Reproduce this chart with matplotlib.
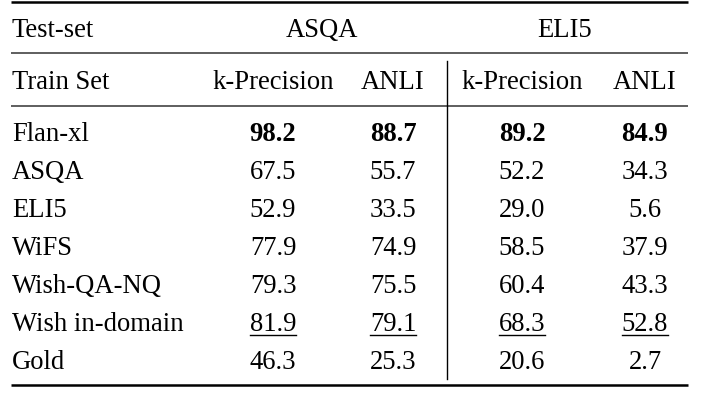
import matplotlib
matplotlib.use("Agg")
import matplotlib.pyplot as plt

train_sets = ["Flan-xl", "ASQA", "ELI5", "WiFS", "Wish-QA-NQ", "Wish in-domain", "Gold"]
test_sets = ["ASQA", "ELI5"]
metrics = ["k-Precision", "ANLI", "k-Precision", "ANLI"]
asqa_kprec = [98.2, 67.5, 52.9, 77.9, 79.3, 81.9, 46.3]
asqa_anli = [88.7, 55.7, 33.5, 74.9, 75.5, 79.1, 25.3]
eli5_kprec = [89.2, 52.2, 29.0, 58.5, 60.4, 68.3, 20.6]
eli5_anli = [84.9, 34.3, 5.6, 37.9, 43.3, 52.8, 2.7]
bold_row = "Flan-xl"
underline_row = "Wish in-domain"

W, H = 701, 402
fig = plt.figure(figsize=(W / 100, H / 100), dpi=100)
ax = fig.add_axes([0, 0, 1, 1])
ax.set_xlim(0, W)
ax.set_ylim(H, 0)
ax.axis("off")

FONT = "Liberation Serif"
FS = 19.2
col_x = [273, 393, 522, 645]
group_x = [322, 565]
row_y0, row_dy = 141, 38
left_x = 12

# rules
ax.plot([11, 688], [3, 3], color="black", lw=1.8, solid_capstyle="butt")
ax.plot([11, 688], [53.5, 53.5], color="#333333", lw=1.1, solid_capstyle="butt")
ax.plot([11, 688], [106.5, 106.5], color="#333333", lw=1.1, solid_capstyle="butt")
ax.plot([11, 688], [386, 386], color="black", lw=1.8, solid_capstyle="butt")
ax.plot([446.5, 446.5], [62, 380], color="black", lw=1.0)

ax.text(left_x, 37, "Test-set", family=FONT, fontsize=FS, va="baseline", ha="left")
for gx, name in zip(group_x, test_sets):
    ax.text(gx, 37, name, family=FONT, fontsize=FS, va="baseline", ha="center")
ax.text(left_x, 89, "Train Set", family=FONT, fontsize=FS, va="baseline", ha="left")
for cx, m in zip(col_x, metrics):
    ax.text(cx, 89, m, family=FONT, fontsize=FS, va="baseline", ha="center")

columns = [asqa_kprec, asqa_anli, eli5_kprec, eli5_anli]
underlined = []
for i, name in enumerate(train_sets):
    y = row_y0 + i * row_dy
    ax.text(left_x, y, name, family=FONT, fontsize=FS, va="baseline", ha="left")
    for cx, col in zip(col_x, columns):
        t = ax.text(cx, y, f"{col[i]:.1f}", family=FONT, fontsize=FS, va="baseline",
                    ha="center", fontweight="bold" if name == bold_row else "normal")
        if name == underline_row:
            underlined.append((t, y))

fig.canvas.draw()
r = fig.canvas.get_renderer()
inv = ax.transData.inverted()
for t, y in underlined:
    bb = t.get_window_extent(r)
    (x0, _), (x1, _) = inv.transform([(bb.x0, bb.y0), (bb.x1, bb.y1)])
    ax.plot([x0, x1], [y + 4.5, y + 4.5], color="black", lw=1.0)

fig.savefig("out.png", dpi=100)
